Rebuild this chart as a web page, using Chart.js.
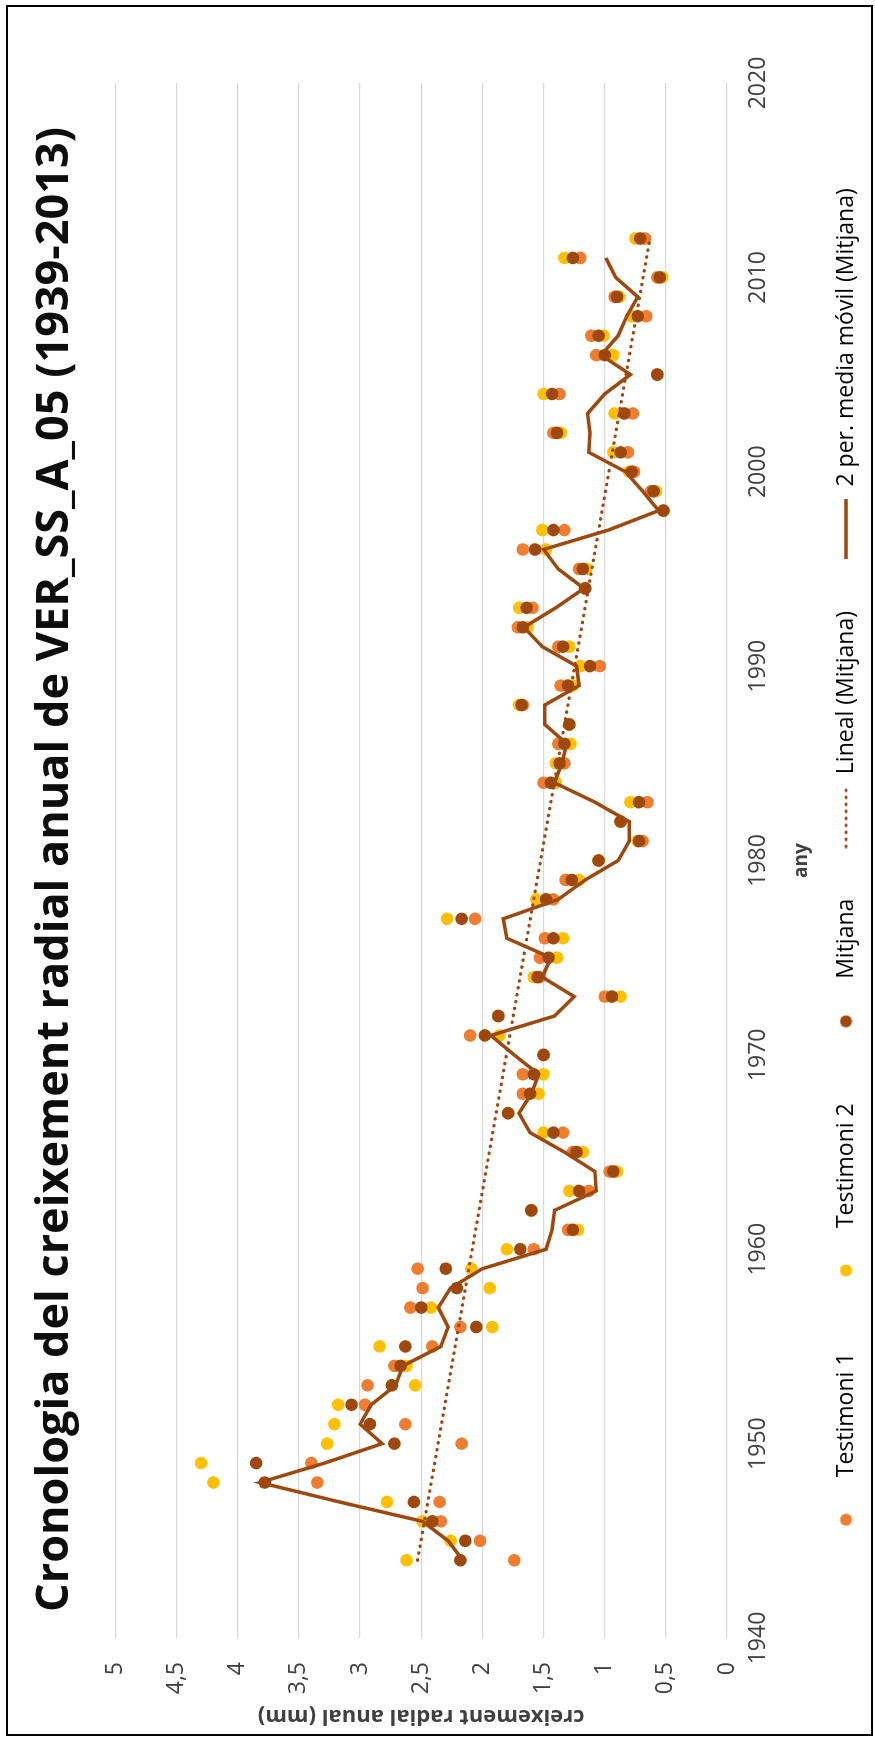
<!DOCTYPE html>
<html>
<head>
<meta charset="utf-8">
<script src="https://cdn.jsdelivr.net/npm/chart.js@4"></script>
<style>
  html, body { margin: 0; padding: 0; background: #fff; }
  body { width: 875px; height: 1739px; overflow: hidden; position: relative; }
  /* the chart is drawn landscape and turned a quarter to the left */
  #wrap { position: absolute; left: 0; top: 1739px; width: 1739px; height: 875px;
          transform-origin: 0 0; transform: rotate(-90deg); }
  #frame { position: absolute; left: 3px; top: 6px; width: 1731px; height: 867px;
           border: 2px solid #000; box-sizing: border-box; }
  canvas { position: absolute; left: 0; top: 0; }
</style>
</head>
<body>
<div id="wrap">
  <canvas id="chart" width="1739" height="875"></canvas>
  <div id="frame"></div>
</div>
<script>
const years = [1944, 1945, 1946, 1947, 1948, 1949,
  1950, 1951, 1952, 1953, 1954, 1955, 1956, 1957, 1958, 1959,
  1960, 1961, 1962, 1963, 1964, 1965, 1966, 1967, 1968, 1969,
  1970, 1971, 1972, 1973, 1974, 1975, 1976, 1977, 1978, 1979,
  1980, 1981, 1982, 1983, 1984, 1985, 1986, 1987, 1988, 1989,
  1990, 1991, 1992, 1993, 1994, 1995, 1996, 1997, 1998, 1999,
  2000, 2001, 2002, 2003, 2004, 2005, 2006, 2007, 2008, 2009,
  2010, 2011, 2012];

const testimoni1 = [1.74, 2.02, 2.34, 2.35, 3.35, 3.40,
  2.17, 2.63, 2.96, 2.94, 2.72, 2.41, 2.18, 2.59, 2.49, 2.53,
  1.58, 1.30, 1.60, 1.13, 0.96, 1.26, 1.34, 1.79, 1.67, 1.67,
  1.50, 2.10, 1.87, 1.00, 1.53, 1.53, 1.49, 2.06, 1.42, 1.32,
  1.05, 0.69, 0.87, 0.65, 1.50, 1.33, 1.38, 1.29, 1.67, 1.36,
  1.04, 1.38, 1.71, 1.59, 1.16, 1.21, 1.67, 1.33, 0.52, 0.62,
  0.76, 0.81, 1.42, 0.77, 1.37, 0.57, 1.07, 1.11, 0.66, 0.92,
  0.57, 1.20, 0.67];

const testimoni2 = [2.62, 2.26, 2.49, 2.78, 4.20, 4.30,
  3.27, 3.21, 3.18, 2.55, 2.62, 2.84, 1.92, 2.42, 1.94, 2.09,
  1.80, 1.22, 1.60, 1.29, 0.90, 1.18, 1.50, 1.79, 1.54, 1.50,
  1.50, 1.86, 1.87, 0.87, 1.58, 1.39, 1.34, 2.29, 1.56, 1.21,
  1.05, 0.73, 0.87, 0.79, 1.40, 1.40, 1.28, 1.29, 1.70, 1.26,
  1.20, 1.29, 1.63, 1.70, 1.16, 1.15, 1.48, 1.51, 0.52, 0.58,
  0.80, 0.93, 1.36, 0.92, 1.50, 0.57, 0.93, 1.01, 0.78, 0.88,
  0.53, 1.33, 0.75];

const mitjana = [2.18, 2.14, 2.41, 2.56, 3.78, 3.85,
  2.72, 2.92, 3.07, 2.74, 2.67, 2.63, 2.05, 2.50, 2.21, 2.30,
  1.69, 1.26, 1.60, 1.21, 0.93, 1.23, 1.42, 1.79, 1.61, 1.58,
  1.50, 1.98, 1.87, 0.94, 1.55, 1.46, 1.42, 2.17, 1.48, 1.27,
  1.05, 0.72, 0.87, 0.72, 1.44, 1.37, 1.33, 1.29, 1.68, 1.30,
  1.12, 1.34, 1.67, 1.64, 1.16, 1.18, 1.57, 1.42, 0.52, 0.60,
  0.78, 0.87, 1.39, 0.84, 1.43, 0.57, 1.00, 1.05, 0.73, 0.90,
  0.55, 1.26, 0.71];

// 2 per. media movil, plotted from 1944 to 2011
const mediaMobil = [2.16, 2.28, 2.49, 3.17, 3.82, 3.29,
  2.82, 3.00, 2.91, 2.71, 2.65, 2.34, 2.28, 2.36, 2.26, 2.00,
  1.48, 1.43, 1.41, 1.07, 1.08, 1.33, 1.61, 1.70, 1.60, 1.54,
  1.74, 1.93, 1.41, 1.25, 1.51, 1.44, 1.80, 1.83, 1.38, 1.16,
  0.89, 0.80, 0.80, 1.08, 1.41, 1.35, 1.31, 1.49, 1.49, 1.21,
  1.23, 1.51, 1.66, 1.40, 1.17, 1.38, 1.50, 0.97, 0.56, 0.69,
  0.83, 1.13, 1.12, 1.14, 1.00, 0.79, 1.03, 0.89, 0.82, 0.73,
  0.91, 0.99];

const trendYears = [1944, 2012];
const trendValues = [2.53, 0.63];

const seriesNames = ['Testimoni 1', 'Testimoni 2', 'Mitjana', 'Lineal (Mitjana)', '2 per. media móvil (Mitjana)'];
const colors = ['#ED7D31', '#FFC000', '#9E480E', '#9E480E', '#9E480E'];

const FONT = 'Open Sans';
Chart.defaults.font.family = FONT;

function pts(xs, ys) {
  return ys.map((v, i) => ({x: xs[i], y: v}));
}

function dotIcon(color) {
  const c = document.createElement('canvas');
  c.width = 13; c.height = 13;
  const g = c.getContext('2d');
  g.fillStyle = color;
  g.beginPath();
  g.arc(6.5, 6.5, 6, 0, Math.PI * 2);
  g.fill();
  return c;
}

function lineIcon(color, dotted) {
  const c = document.createElement('canvas');
  c.width = 64; c.height = 8;
  const g = c.getContext('2d');
  g.strokeStyle = color;
  g.lineWidth = dotted ? 3.2 : 3.5;
  if (dotted) { g.setLineDash([0.5, 6.5]); g.lineCap = 'round'; }
  g.beginPath();
  g.moveTo(2, 4);
  g.lineTo(62, 4);
  g.stroke();
  return c;
}

const icons = [dotIcon(colors[0]), dotIcon(colors[1]), dotIcon(colors[2]),
  lineIcon(colors[3], true), lineIcon(colors[4], false)];

const ctx = document.getElementById('chart').getContext('2d');
new Chart(ctx, {
  type: 'scatter',
  data: {
    datasets: [
      { label: seriesNames[0], data: pts(years, testimoni1), backgroundColor: colors[0],
        pointRadius: 6.3, pointBorderWidth: 0, order: 4 },
      { label: seriesNames[1], data: pts(years, testimoni2), backgroundColor: colors[1],
        pointRadius: 6.3, pointBorderWidth: 0, order: 3 },
      { label: seriesNames[2], data: pts(years, mitjana), backgroundColor: colors[2],
        pointRadius: 6.3, pointBorderWidth: 0, order: 2 },
      { label: seriesNames[3], data: pts(trendYears, trendValues), showLine: true,
        borderColor: colors[3], borderWidth: 3.2, borderDash: [0.5, 6.5], borderCapStyle: 'round',
        pointRadius: 0, order: 1 },
      { label: seriesNames[4], data: pts(years, mediaMobil), showLine: true,
        borderColor: colors[4], borderWidth: 3.5, pointRadius: 0, order: 0 },
    ]
  },
  options: {
    responsive: false,
    animation: false,
    devicePixelRatio: 1,
    layout: { padding: { top: 0, left: 10, right: 10, bottom: 7.5 } },
    plugins: {
      tooltip: { enabled: false },
      title: {
        display: true,
        text: 'Cronologia del creixement radial anual de VER_SS_A_05 (1939-2013)',
        color: '#0d0d0d',
        font: { family: FONT, size: 45, weight: 'bold' },
        padding: { top: 28, bottom: 33.5 }
      },
      legend: {
        position: 'bottom',
        labels: {
          usePointStyle: true,
          pointStyleWidth: 62,
          padding: 51,
          color: '#404040',
          font: { family: FONT, size: 23 },
          generateLabels: () => seriesNames.map((name, i) => ({
            text: name, fillStyle: colors[i], strokeStyle: colors[i], lineWidth: 0,
            pointStyle: icons[i], hidden: false, datasetIndex: i
          }))
        }
      }
    },
    scales: {
      x: {
        type: 'linear', position: 'bottom', min: 1940, max: 2020,
        afterFit: s => { s.height = 56.5; },
        border: { display: false },
        grid: { display: false, drawTicks: false },
        ticks: { stepSize: 10, padding: 18, maxRotation: 0, autoSkip: false, color: '#404040',
                 font: { family: FONT, size: 23 }, callback: v => String(v) },
        title: { display: true, text: 'any', color: '#404040',
                 font: { family: FONT, size: 19, weight: 'bold' }, padding: { top: 0, bottom: -29.9 } }
      },
      y: {
        min: 0, max: 5,
        afterFit: s => { s.width = 91; },
        border: { display: false },
        grid: { color: '#d9d9d9', lineWidth: 1.3, drawTicks: false },
        ticks: { stepSize: 0.5, padding: 24, color: '#404040', font: { family: FONT, size: 23 },
                 callback: v => String(v).replace('.', ',') },
        title: { display: true, text: 'creixement radial anual (mm)', color: '#404040',
                 font: { family: FONT, size: 22, weight: 'bold' }, padding: { top: 0, bottom: 0 } }
      },
      spacer: {
        type: 'linear', position: 'right', display: true,
        afterFit: s => { s.width = 73; },
        border: { display: false },
        grid: { display: false, drawTicks: false },
        ticks: { display: false }
      }
    }
  }
});
</script>
</body>
</html>
